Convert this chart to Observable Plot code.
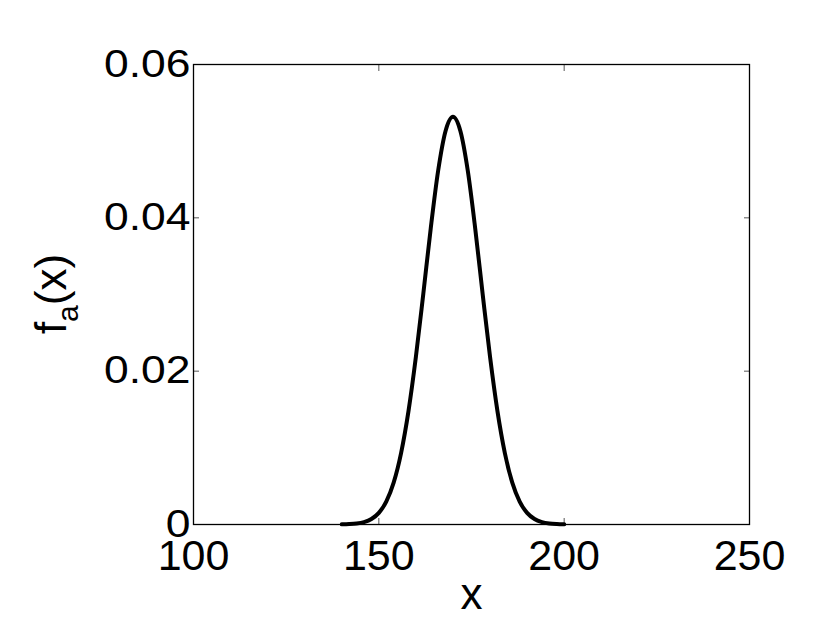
<!DOCTYPE html>
<html><head><meta charset="utf-8">
<script src="https://cdn.jsdelivr.net/npm/d3@7"></script>
<script src="https://cdn.jsdelivr.net/npm/@observablehq/plot@0.6"></script>
<style>body{margin:0;background:#fff}</style>
</head><body><div id="chart"></div>
<script>
// Curve values
const xValues = [140,142,144,146,148,150,152,154,156,158,160,162,164,166,168,170,172,174,176,178,180,182,184,186,188,190,192,194,196,198,200];
const densityValues = [0.00002,0.00005,0.00013,0.00032,0.00072,0.00152,0.00299,0.00546,0.00932,0.01479,0.02187,0.03011,0.03862,0.04614,0.05133,0.05319,0.05133,0.04614,0.03862,0.03011,0.02187,0.01479,0.00932,0.00546,0.00299,0.00152,0.00072,0.00032,0.00013,0.00005,0.00002];
const xTicks = [100,150,200,250];
const xTickLabels = ["100","150","200","250"];
const yTicks = [0,0.02,0.04,0.06];
const yTickLabels = ["0","0.02","0.04","0.06"];
const xLabel = "x";
const yLabelMain = "f", yLabelSub = "a", yLabelTail = "(x)";

const data = xValues.map((x,i)=>({x, y: densityValues[i]}));
const font = '"Liberation Sans", Arial, Helvetica, sans-serif';

const plot = Plot.plot({
  width: 826, height: 640,
  marginLeft: 193, marginRight: 77, marginTop: 64, marginBottom: 116,
  style: {fontFamily: font, background: "#fff", color: "#000", overflow: "visible"},
  x: {domain: [100, 250]},
  y: {domain: [0, 0.06]},
  marks: [
    // inward ticks on all four sides
    Plot.axisX({anchor: "bottom", ticks: xTicks, tickSize: -6, tickFormat: () => "", label: null, stroke: "#555"}),
    Plot.axisX({anchor: "top", ticks: xTicks, tickSize: -6, tickFormat: () => "", label: null, stroke: "#555"}),
    Plot.axisY({anchor: "left", ticks: yTicks, tickSize: -6, tickFormat: () => "", label: null, stroke: "#555"}),
    Plot.axisY({anchor: "right", ticks: yTicks, tickSize: -6, tickFormat: () => "", label: null, stroke: "#555"}),
    // tick labels
    Plot.axisX({anchor: "bottom", ticks: xTicks, tickSize: 0, tickPadding: 15, fontSize: 43,
      tickFormat: d => xTickLabels[xTicks.indexOf(d)], label: null}),
    Plot.axisY({anchor: "left", ticks: yTicks, tickSize: 0, tickPadding: 3, fontSize: 38,
      tickFormat: d => yTickLabels[yTicks.indexOf(d)], label: null}),
    Plot.frame({stroke: "#000", strokeWidth: 1.3}),
    Plot.line(data, {x: "x", y: "y", stroke: "#000", strokeWidth: 4, curve: "monotone-x"}),
    Plot.text([xLabel], {text: d => d, frameAnchor: "bottom", lineAnchor: "top", dy: 53, fontSize: 44, fill: "#000"})
  ]
});

const svg = d3.select(plot);
// widen y tick labels horizontally as in the reference
svg.selectAll('g[aria-label="y-axis tick label"] text').each(function() {
  const tr = this.getAttribute("transform") || "";
  this.setAttribute("transform", tr + " scale(1.17,1)");
});

// y label with subscript
const t = svg.append("text")
  .attr("transform", "translate(66,294) rotate(-90)")
  .attr("text-anchor", "middle")
  .attr("font-family", font)
  .attr("font-size", 44)
  .attr("fill", "#000");
t.append("tspan").text(yLabelMain);
t.append("tspan").attr("font-size", 30).attr("dy", 12).text(yLabelSub);
t.append("tspan").attr("dy", -12).text(yLabelTail);

document.getElementById("chart").appendChild(plot);
</script>
</body></html>
